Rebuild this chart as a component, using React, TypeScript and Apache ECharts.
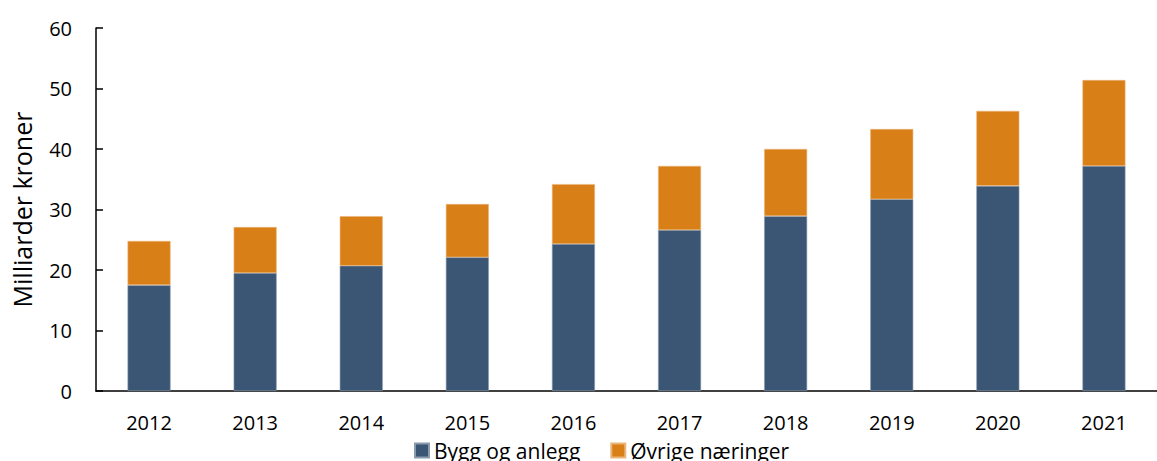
import React, { useEffect, useRef } from "react";
import * as echarts from "echarts";

const years = ["2012", "2013", "2014", "2015", "2016", "2017", "2018", "2019", "2020", "2021"];
const byggOgAnlegg = [17.5, 19.5, 20.7, 22.1, 24.3, 26.6, 28.9, 31.7, 33.9, 37.2];
const ovrigeNaringer = [7.3, 7.6, 8.2, 8.8, 9.9, 10.6, 11.1, 11.6, 12.4, 14.2];
const seriesNames = ["Bygg og anlegg", "Øvrige næringer"];
const colors = ["#3B5674", "#D97F17"];

const FONT = "'Open Sans', 'Noto Sans', sans-serif";

export default function App() {
  const ref = useRef<HTMLDivElement>(null);
  useEffect(() => {
    if (!ref.current) return;
    const chart = echarts.init(ref.current, null, { renderer: "svg" });
    chart.setOption({
      animation: false,
      textStyle: { fontFamily: FONT },
      grid: { left: 96, top: 28, width: 1077, height: 363, containLabel: false },
      legend: {
        data: seriesNames,
        left: 414,
        top: 440,
        padding: 0,
        icon: "rect",
        itemWidth: 14,
        itemHeight: 14,
        itemGap: 30,
        textStyle: { fontFamily: FONT, fontSize: 21, color: "#000" },
      },
      xAxis: {
        type: "category",
        data: years,
        axisLine: { lineStyle: { color: "#000", width: 1.5 } },
        axisTick: { show: false },
        axisLabel: { color: "#000", fontSize: 20, margin: 21, fontFamily: FONT },
      },
      yAxis: {
        type: "value",
        min: 0,
        max: 60,
        interval: 10,
        name: "Milliarder kroner",
        nameLocation: "middle",
        nameGap: 62,
        nameTextStyle: { color: "#000", fontSize: 25, fontFamily: FONT },
        axisLine: { show: true, lineStyle: { color: "#000", width: 1.5 } },
        axisTick: { show: true, inside: true, length: 7, lineStyle: { color: "#000", width: 1.5 } },
        splitLine: { show: false },
        axisLabel: { color: "#000", fontSize: 20, margin: 24, fontFamily: FONT },
      },
      series: [
        {
          name: seriesNames[0],
          type: "bar",
          stack: "total",
          data: byggOgAnlegg,
          barWidth: 43,
          itemStyle: { color: colors[0], borderColor: "#8A9BAE", borderWidth: 0.6 },
        },
        {
          name: seriesNames[1],
          type: "bar",
          stack: "total",
          data: ovrigeNaringer,
          barWidth: 43,
          itemStyle: { color: colors[1], borderColor: "#EBB57A", borderWidth: 0.6 },
        },
      ],
    });
    return () => chart.dispose();
  }, []);
  return <div ref={ref} style={{ width: 1157, height: 461, position: "absolute", left: 0, top: 0 }} />;
}
